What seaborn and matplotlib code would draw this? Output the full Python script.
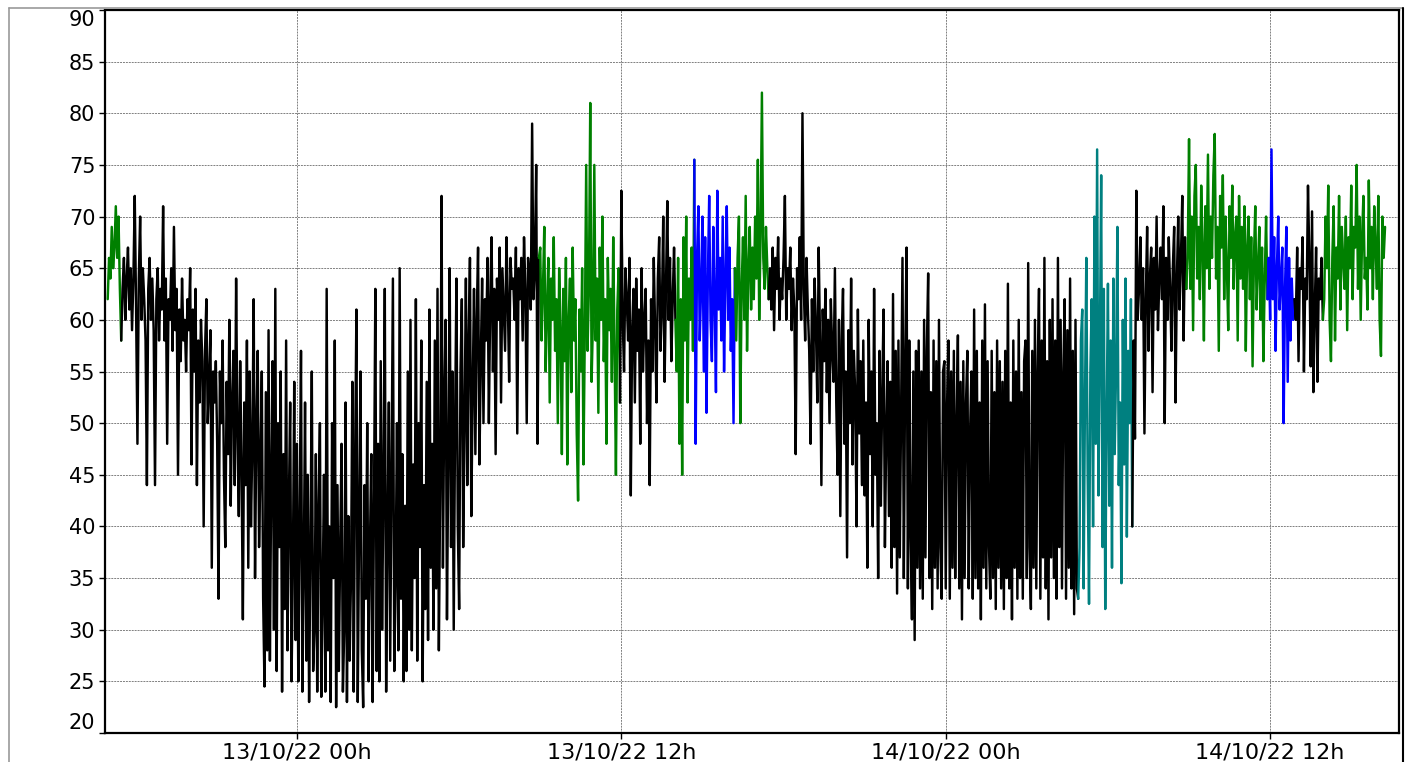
import matplotlib
matplotlib.use('Agg')
import matplotlib.pyplot as plt
import matplotlib.dates as mdates
from matplotlib.lines import Line2D
import pandas as pd
import seaborn as sns

# readings every 3 minutes, starting 12/10/22 17:00
START = '2022-10-12 17:00'
STEP = '3min'

green_1 = [62, 66, 64, 69, 65, 67, 71, 66, 70, 63, 58]
black_1 = [63, 66, 60, 64, 67, 61, 65, 59, 64,
           72, 61, 48, 64, 70, 60, 65, 62, 58, 44, 63, 66, 60, 64, 59, 44, 62, 65, 58, 63,
           61, 71, 58, 64, 48, 62, 60, 65, 57, 69, 59, 63, 45, 61, 56, 64, 58, 60, 55, 62,
           59, 65, 46, 61, 55, 63, 44, 58, 52, 60, 56, 40, 57, 62, 50, 54, 59, 36, 55, 52,
           56, 48, 33, 55, 50, 58, 45, 38, 54, 47, 60, 42, 52, 57, 44, 64, 49, 41, 56, 46,
           31, 52, 44, 58, 36, 55, 40, 48, 62, 35, 50, 57, 38, 46, 55, 33, 24.5, 53, 28, 59,
           27, 45, 56, 30, 63, 26, 50, 38, 55, 24, 47, 32, 58, 28, 42, 52, 25, 36, 54, 29,
           48, 25, 40, 57, 24, 35, 52, 27, 45, 23, 38, 55, 26, 30, 47, 24, 42, 50, 23.5, 33,
           45, 24, 63, 28, 40, 23, 50, 35, 58, 22.5, 44, 26, 38, 48, 24, 30, 52, 23, 41, 27,
           35, 54, 24, 46, 61, 23, 40, 55, 28, 22.5, 44, 33, 50, 25, 38, 47, 23, 42, 63, 26,
           48, 25, 56, 30, 44, 63, 24, 39, 52, 27, 45, 64, 26, 35, 50, 28, 65, 33, 47, 25,
           42, 26, 55, 30, 60, 28, 46, 35, 62, 27, 50, 38, 58, 25, 44, 32, 54, 29, 61, 36,
           48, 30, 58, 34, 63, 28, 44, 72, 36, 52, 60, 31, 47, 65, 38, 55, 30, 50, 64, 40,
           32, 55, 62, 38, 50, 64, 44, 58, 66, 41, 53, 63, 47, 60, 67, 46, 56, 64, 50, 62,
           58, 66, 50, 62, 68, 55, 63, 47, 64, 60, 67, 52, 65, 61, 57, 68, 62, 54, 66, 63,
           64, 60, 67, 49, 65, 62, 66, 58, 68, 63, 50, 66, 64, 61, 79, 62, 65, 75, 48, 66]
green_2 = [67, 58, 63, 69, 55, 61, 66, 52, 64, 60, 68, 57, 62, 50, 65, 59, 47, 63, 56, 66,
           46, 60, 64, 53, 67, 58, 62, 49, 42.5, 61, 55, 65, 46, 59, 75, 57, 63, 81, 54, 60,
           75, 58, 64, 51, 67, 60, 70, 56, 62, 48, 66, 59, 63, 54, 68, 57, 45, 61, 65, 52]
black_2 = [72.5, 60, 55, 65, 62, 58, 66, 43, 59, 63, 52, 64, 57, 61, 48, 65, 55, 60, 63, 50,
           58, 44, 62, 55, 66, 59, 52, 64, 68, 57, 61, 70, 54, 63, 71.5, 60, 66, 56, 62, 67,
           60]
green_3 = [55, 66, 48, 62, 45, 68, 58, 70, 52, 64, 60, 67, 57, 75.5]
blue_1 = [48, 66, 71, 58, 63, 70, 55, 68, 51, 64, 72, 60, 56, 69, 62, 53, 72.5, 61, 66, 58,
          70, 55, 64, 71, 60, 67, 57, 62, 50, 65]
green_4 = [58, 66, 70, 50, 63, 68, 60, 72, 57, 65, 69, 61, 67, 62, 70, 64, 75.5, 60, 68, 82,
           66, 63, 69, 65, 62]
black_3 = [65, 61, 67, 59, 66, 63, 68, 60, 64,
           62, 66, 72, 60, 65, 63, 67, 59, 64, 61, 47, 65, 62, 68, 60, 80, 63, 58, 66, 61,
           57, 48, 62, 55, 64, 59, 52, 67, 58, 44, 61, 56, 63, 53, 60, 50, 62, 57, 54, 65,
           52, 45, 60, 41, 58, 63, 48, 55, 37, 59, 50, 64, 46, 57, 53, 40, 61, 49, 56, 44,
           58, 43, 52, 36, 60, 47, 55, 40, 63, 45, 50, 35, 57, 42, 53, 61, 38, 49, 56, 41,
           54, 36, 62.5, 38, 57, 33.5, 58, 37, 52, 66, 35, 56, 67, 34, 58, 39, 31, 55, 29, 57,
           36, 58, 34, 55, 33, 60, 37, 57, 64.5, 35, 53, 32, 58, 36, 56, 34, 60, 38, 33, 55,
           56, 34, 52, 58, 33, 55, 36, 57, 35, 50, 58.5, 34, 54, 31, 56, 35, 52, 57, 34, 49,
           55, 33, 61, 35, 57, 34, 52, 31, 58, 36, 61.5, 34, 56, 38, 33, 57, 35, 53, 32, 58,
           36, 56, 34, 54, 32, 57, 35, 63.5, 34, 52, 31, 58, 36, 55, 33, 60, 35, 53, 33, 56,
           58, 35, 65.5, 38, 32, 57, 36, 60, 34, 55, 63, 33, 58, 37, 66, 34, 56, 31, 60, 37,
           62, 35, 58, 33, 66, 38, 60, 34, 55, 62, 33, 59, 36, 64, 34, 57, 31.5, 60, 34, 33]
teal_1 = [38, 58, 61, 34, 52, 66, 45, 32.5, 55, 62, 40, 70, 48, 76.5, 43, 57, 74, 38, 63, 32,
          50, 63.5, 42, 58, 36, 64, 47, 55, 69, 44, 52, 34.5, 60, 46, 64, 39, 57, 50, 62, 40]
black_4 = [58, 48.5, 72.5, 60, 63, 68, 60, 65, 49, 62, 69, 57, 64, 67, 53, 66, 61, 70, 59, 64,
           67, 62, 71, 50, 66, 60, 68, 63, 57, 65, 69, 52, 64, 70, 61, 66, 72, 58, 68, 63]
green_5 = [66, 77.5, 63, 70, 59, 72, 75, 64, 69, 62, 73, 67, 58, 71, 65, 76, 63, 70, 66, 74,
           78, 64, 69, 57, 72, 67, 74, 62, 70, 65, 59, 71, 66, 73, 63, 68, 70, 58, 72, 64,
           69, 63, 71, 57, 67, 70, 62, 68, 55.5, 66, 71, 61, 65, 69, 60, 67, 56, 64, 70, 62]
blue_2 = [66, 60, 76.5, 62, 68, 57, 65, 70, 61, 64, 67, 50, 63, 69, 54, 66, 58, 64, 60, 62]
black_5 = [60, 67, 56, 65, 63, 68, 55, 64, 62, 73, 66, 55.5, 70.5, 53, 61, 67, 54, 64, 62, 66, 60]
green_6 = [62, 70, 65, 73, 60, 56, 66, 71, 58, 67, 64, 72, 61, 69, 66, 63, 70, 59, 68,
           65, 73, 62, 69, 67, 75, 63, 70, 60, 68, 72, 64, 66, 61, 73.5, 65, 69, 62, 71, 67,
           63, 72, 60, 56.5, 70, 66, 69]

segments = [green_1, black_1, green_2, black_2, green_3, blue_1, green_4,
            black_3, teal_1, black_4, green_5, blue_2, black_5, green_6]
seg_colors = ['#008000', 'black', '#008000', 'black', '#008000', '#0000ff', '#008000',
              'black', '#008080', 'black', '#008000', '#0000ff', 'black', '#008000']

y_ticks = list(range(20, 95, 5))


def main():
    sns.set_style('white')
    plt.rcParams['font.family'] = ['DejaVu Sans']

    values, seg_id = [], []
    for i, seg in enumerate(segments):
        values += seg
        seg_id += [i] * len(seg)
    df = pd.DataFrame({'time': pd.date_range(START, periods=len(values), freq=STEP),
                       'value': values, 'seg': seg_id})

    fig = plt.figure(figsize=(14.08, 7.62), dpi=100)
    ax = fig.add_axes([105 / 1408, 1 - 733 / 762, 1294 / 1408, 723 / 762])

    for i, color in enumerate(seg_colors):
        part = df[df['seg'] == i]
        if i > 0:
            # join each colour block to the previous one
            prev = df[df['seg'] == i - 1].iloc[[-1]]
            part = pd.concat([prev, part])
        sns.lineplot(data=part, x='time', y='value', color=color, linewidth=1.75,
                     estimator=None, sort=False, ax=ax)

    ax.set_xlim(pd.Timestamp('2022-10-12 16:54'), pd.Timestamp('2022-10-14 16:46'))
    ax.set_ylim(20, 90)
    ax.set_yticks(y_ticks)
    ax.xaxis.set_major_locator(mdates.HourLocator(byhour=[0, 12]))
    ax.xaxis.set_major_formatter(mdates.DateFormatter('%d/%m/%y %Hh'))
    ax.set_xlabel('')
    ax.set_ylabel('')

    ax.grid(True, color='#808080', linestyle=(0, (2, 1)), linewidth=0.7)
    ax.set_axisbelow(True)
    for sp in ax.spines.values():
        sp.set_color('black')
        sp.set_linewidth(1.6)

    ax.tick_params(axis='both', direction='out', length=4, width=1, color='black',
                   labelsize=15, labelcolor='black', left=True, bottom=True)
    ax.tick_params(axis='y', pad=3)
    ax.tick_params(axis='x', pad=3, labelsize=16)

    # keep the end labels inside the frame, as the original software does
    ylabels = ax.get_yticklabels()
    ylabels[0].set_verticalalignment('bottom')
    ylabels[-1].set_verticalalignment('top')

    # panel border round the figure
    fig.add_artist(Line2D([8.5 / 1408, 1402.5 / 1408], [1 - 7.5 / 762] * 2, color='#999999', lw=1.2))
    fig.add_artist(Line2D([8.5 / 1408] * 2, [0, 1 - 7.5 / 762], color='#999999', lw=1.2))
    fig.add_artist(Line2D([1402.5 / 1408] * 2, [0, 1 - 7.5 / 762], color='black', lw=1.5))

    fig.savefig('out.png', dpi=100)
    plt.close()


if __name__ == '__main__':
    main()
